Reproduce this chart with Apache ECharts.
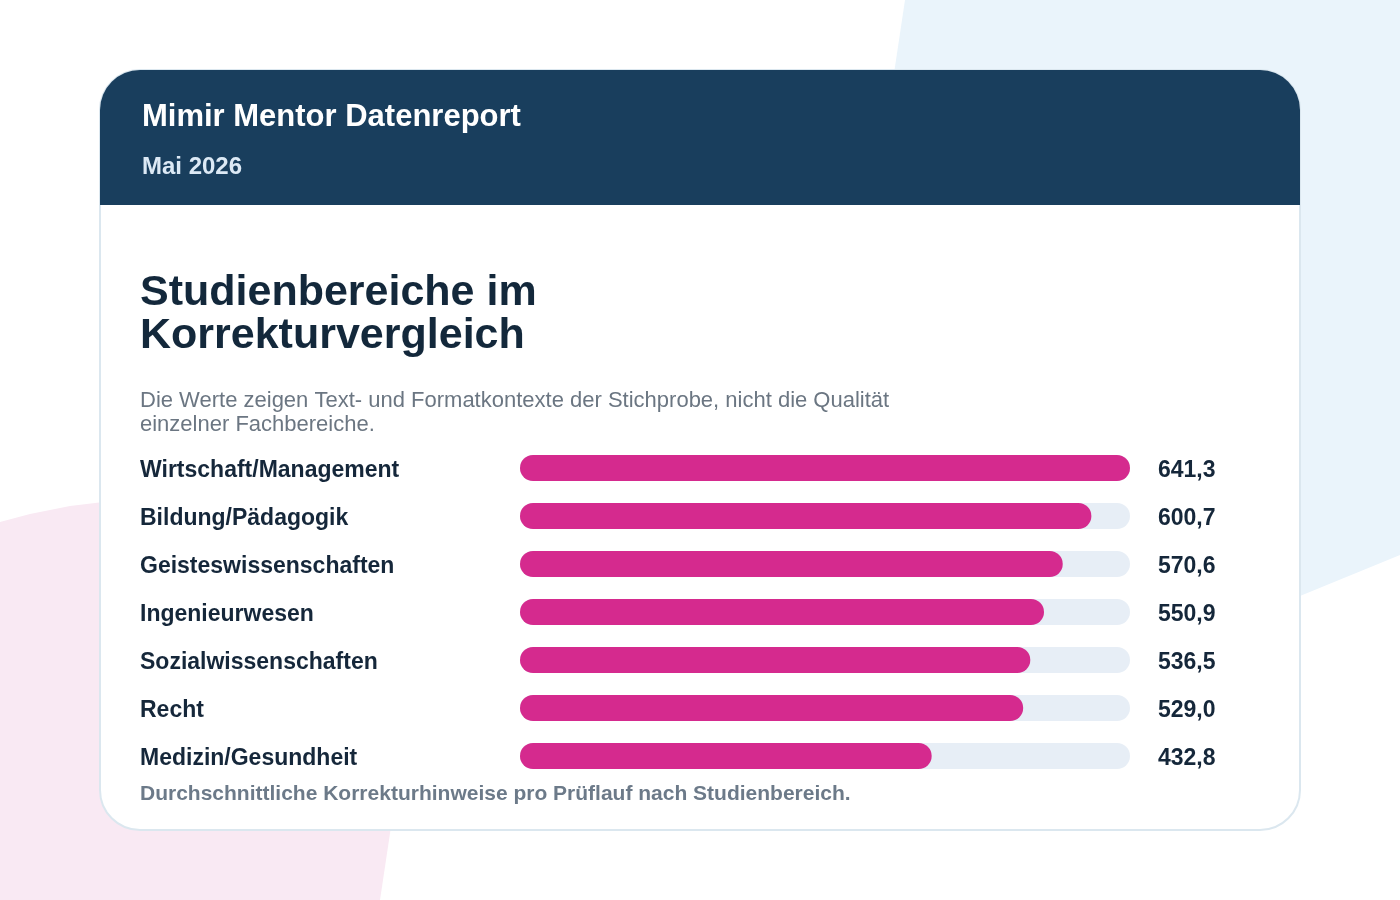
<!DOCTYPE html>
<html>
<head>
<meta charset="utf-8">
<script src="https://cdn.jsdelivr.net/npm/echarts@6/dist/echarts.min.js"></script>
<style>
  html, body { margin: 0; padding: 0; background: #ffffff; }
  #chart { width: 1400px; height: 900px; }
</style>
</head>
<body>
<div id="chart"></div>
<script>
// Studienbereiche (top to bottom)
const categories = [
  'Wirtschaft/Management',
  'Bildung/Pädagogik',
  'Geisteswissenschaften',
  'Ingenieurwesen',
  'Sozialwissenschaften',
  'Recht',
  'Medizin/Gesundheit'
];
// Korrekturhinweise pro Prüflauf
const values = [641.3, 600.7, 570.6, 550.9, 536.5, 529.0, 432.8];

const fontFamily = '"Liberation Sans", Arial, Helvetica, sans-serif';
const fmt = v => v.toFixed(1).replace('.', ',');

const chart = echarts.init(document.getElementById('chart'));

// axis labels sit a few px lower than the bar centre in the original
const labelRich = {
  l: { padding: [6, 0, 0, 0], color: '#15273a', fontSize: 23, fontWeight: 'bold', fontFamily: fontFamily }
};

const option = {
  backgroundColor: '#ffffff',
  animation: false,
  textStyle: { fontFamily: fontFamily },
  graphic: [
    // decorative background shapes
    {
      type: 'polygon', z: -10,
      shape: { points: [[905, 0], [1400, 0], [1400, 555], [900, 760], [860, 300]] },
      style: { fill: '#eaf4fb' }
    },
    {
      type: 'polygon', z: -10,
      shape: { points: [[0, 522], [30, 514], [70, 506], [120, 500], [180, 496], [420, 480], [392, 820], [380, 900], [0, 900]] },
      style: { fill: '#f9e9f3' }
    },
    // card
    {
      type: 'rect', z: -5,
      shape: { x: 100, y: 70, width: 1200, height: 760, r: 40 },
      style: { fill: '#ffffff', stroke: '#dbe7ef', lineWidth: 2 }
    },
    {
      type: 'rect', z: -4,
      shape: { x: 100, y: 70, width: 1200, height: 135, r: [40, 40, 0, 0] },
      style: { fill: '#193e5d' }
    },
    // header texts
    {
      type: 'text', z: 1, x: 142, y: 117,
      style: { text: 'Mimir Mentor Datenreport', fill: '#ffffff', font: 'bold 31px ' + fontFamily, verticalAlign: 'middle' }
    },
    {
      type: 'text', z: 1, x: 142, y: 167,
      style: { text: 'Mai 2026', fill: '#dce9f5', font: 'bold 24px ' + fontFamily, verticalAlign: 'middle' }
    },
    // chart title
    {
      type: 'text', z: 1, x: 140, y: 272,
      style: {
        text: 'Studienbereiche im\nKorrekturvergleich',
        fill: '#13283b', font: 'bold 43px ' + fontFamily, lineHeight: 43, verticalAlign: 'top'
      }
    },
    {
      type: 'text', z: 1, x: 140, y: 389,
      style: {
        text: 'Die Werte zeigen Text- und Formatkontexte der Stichprobe, nicht die Qualität\neinzelner Fachbereiche.',
        fill: '#6b7682', font: '22px ' + fontFamily, lineHeight: 24, verticalAlign: 'top'
      }
    },
    // footnote
    {
      type: 'text', z: 1, x: 140, y: 794,
      style: {
        text: 'Durchschnittliche Korrekturhinweise pro Prüflauf nach Studienbereich.',
        fill: '#6c7a89', font: 'bold 21px ' + fontFamily, verticalAlign: 'middle'
      }
    }
  ],
  grid: { left: 520, right: 270, top: 444, height: 336, containLabel: false },
  xAxis: {
    type: 'value', min: 0, max: 641.3,
    show: false
  },
  yAxis: [
    {
      type: 'category', data: categories, inverse: true,
      axisLine: { show: false }, axisTick: { show: false },
      axisLabel: {
        align: 'left', margin: 380,
        formatter: v => '{l|' + v + '}', rich: labelRich
      }
    },
    {
      type: 'category', data: values.map(fmt), inverse: true, position: 'right',
      axisLine: { show: false }, axisTick: { show: false },
      axisLabel: {
        align: 'left', margin: 28,
        formatter: v => '{l|' + v + '}', rich: labelRich
      }
    }
  ],
  series: [
    {
      type: 'bar', data: values, barWidth: 26,
      itemStyle: { color: '#d52a8e', borderRadius: 13 },
      showBackground: true,
      backgroundStyle: { color: '#e7eef6', borderRadius: 13 }
    }
  ]
};

chart.setOption(option);
</script>
</body>
</html>
